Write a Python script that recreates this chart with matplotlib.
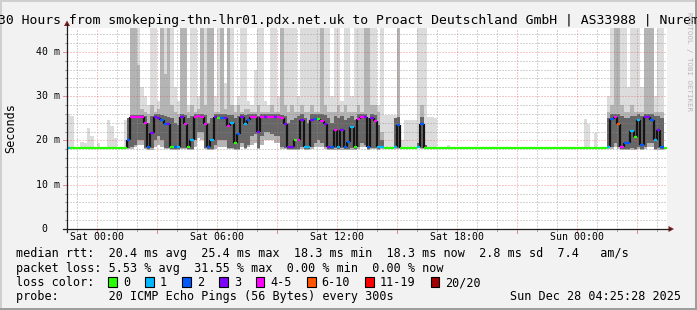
import matplotlib
matplotlib.use("Agg")
import matplotlib.pyplot as plt
from matplotlib.patches import Rectangle, Polygon
from matplotlib.lines import Line2D
import numpy as np

# ---------------- data (10-minute bins, first bin starts Fri 22:30) ----------------
start_hour = -1.5          # hours relative to Sat 00:00
bin_hours = 1.0 / 6.0

median_ms = [
    18.3, 18.3, 18.3, 18.3, 18.3, 18.3, 18.3, 18.3, 18.3, 18.3,
    18.3, 18.3, 18.3, 18.3, 18.3, 18.3, 18.3, 18.3, 20.0, 25.2,
    25.2, 25.3, 25.2, 23.9, 18.5, 21.6, 25.3, 25.0, 24.6, 23.6,
    23.6, 18.4, 18.5, 18.4, 25.3, 23.6, 18.4, 20.2, 25.3, 25.4,
    25.3, 23.6, 18.4, 20.1, 25.2, 25.0, 25.1, 25.0, 23.2, 23.9,
    19.5, 21.5, 25.3, 23.6, 24.7, 25.2, 25.2, 22.0, 25.2, 25.3,
    25.3, 25.2, 25.2, 25.3, 25.0, 23.6, 18.5, 18.5, 20.2, 20.1,
    24.5, 18.4, 18.5, 24.7, 24.8, 24.8, 24.4, 23.6, 18.5, 18.5,
    22.3, 18.5, 22.3, 18.5, 19.7, 23.0, 18.4, 24.8, 25.3, 25.3,
    18.4, 25.0, 24.3, 18.4, 18.4, 18.3, 18.3, 18.3, 18.4, 23.4,
    18.3, 18.3, 18.3, 18.3, 18.3, 18.4, 23.6, 18.3, 18.3, 18.3,
    18.3, 18.3, 18.3, 18.3, 18.3, 18.3, 18.3, 18.3, 18.3, 18.3,
    18.3, 18.3, 18.3, 18.3, 18.3, 18.3, 18.3, 18.3, 18.3, 18.3,
    18.3, 18.3, 18.3, 18.3, 18.3, 18.3, 18.3, 18.3, 18.3, 18.3,
    18.3, 18.3, 18.3, 18.3, 18.3, 18.3, 18.3, 18.3, 18.3, 18.3,
    18.3, 18.3, 18.3, 18.3, 18.3, 18.3, 18.3, 18.3, 18.3, 18.3,
    18.3, 18.3, 18.4, 24.8, 25.2, 23.8, 18.4, 19.5, 19.5, 22.2,
    20.8, 24.6, 19.0, 25.2, 25.2, 24.6, 20.0, 22.3, 18.4, 18.3,
]

loss_pings = [
    1, 0, 0, 0, 0, 0, 0, 0, 0, 0,
    0, 0, 0, 0, 0, 0, 0, 0, 2, 4,
    4, 4, 4, 4, 2, 3, 3, 3, 2, 2,
    3, 0, 2, 1, 3, 4, 0, 1, 4, 4,
    4, 4, 2, 1, 3, 0, 2, 3, 4, 1,
    0, 2, 3, 1, 2, 4, 4, 3, 4, 3,
    4, 4, 3, 4, 4, 3, 3, 3, 0, 4,
    3, 1, 1, 3, 2, 0, 4, 3, 3, 2,
    4, 1, 3, 2, 2, 1, 0, 4, 4, 3,
    2, 3, 4, 1, 1, 0, 0, 0, 1, 2,
    0, 0, 0, 0, 0, 1, 2, 0, 0, 0,
    0, 0, 0, 0, 0, 0, 0, 0, 0, 0,
    0, 0, 0, 0, 0, 0, 0, 0, 0, 0,
    0, 0, 0, 0, 0, 0, 0, 0, 0, 0,
    0, 0, 0, 0, 0, 0, 0, 0, 0, 0,
    0, 0, 0, 0, 0, 0, 0, 0, 0, 0,
    0, 0, 1, 2, 4, 7, 4, 2, 2, 1,
    0, 1, 2, 3, 3, 2, 1, 3, 2, 0,
]

smoke_min = [
    18.3, 18.3, 18.3, 18.3, 18.3, 18.3, 18.3, 18.3, 18.3, 18.3,
    18.3, 18.3, 18.3, 18.3, 18.3, 18.3, 18.3, 18.3, 18.0, 18.0,
    18.5, 19.0, 19.0, 18.0, 17.9, 17.9, 18.5, 19.0, 18.5, 18.0,
    18.0, 17.9, 17.9, 17.9, 18.0, 18.0, 17.9, 17.9, 18.5, 20.5,
    20.0, 18.0, 17.9, 17.9, 18.0, 18.5, 18.5, 18.5, 18.0, 18.0,
    17.9, 17.9, 18.5, 18.0, 18.5, 19.0, 19.5, 18.0, 19.0, 20.0,
    20.0, 20.0, 19.5, 19.5, 18.0, 18.0, 17.9, 17.9, 17.9, 17.9,
    18.0, 17.9, 17.9, 18.0, 18.5, 18.5, 18.5, 18.0, 17.9, 17.9,
    17.9, 17.9, 17.9, 17.9, 17.9, 17.9, 17.9, 18.0, 18.5, 18.5,
    17.9, 18.0, 18.0, 17.9, 18.1, 18.3, 18.3, 18.3, 18.0, 18.0,
    18.3, 18.3, 18.3, 18.3, 18.3, 18.2, 18.0, 18.3, 18.3, 18.3,
    18.3, 18.3, 18.3, 18.3, 18.3, 18.3, 18.3, 18.3, 18.3, 18.3,
    18.3, 18.3, 18.3, 18.3, 18.3, 18.3, 18.3, 18.3, 18.3, 18.3,
    18.3, 18.3, 18.3, 18.3, 18.3, 18.3, 18.3, 18.3, 18.3, 18.3,
    18.3, 18.3, 18.3, 18.3, 18.3, 18.3, 18.3, 18.3, 18.3, 18.3,
    18.3, 18.3, 18.3, 18.3, 18.3, 18.3, 18.3, 18.3, 18.3, 18.3,
    18.3, 18.3, 18.0, 18.0, 18.5, 18.0, 17.9, 17.9, 17.9, 17.9,
    17.9, 18.0, 17.9, 18.0, 18.5, 18.5, 17.9, 17.9, 17.9, 18.3,
]

dark_lo = [
    18.3, 18.3, 18.3, 18.3, 18.3, 18.3, 18.3, 18.3, 18.3, 18.3,
    18.3, 18.3, 18.3, 18.3, 18.3, 18.3, 18.3, 18.3, 18.3, 18.5,
    19.0, 20.0, 20.0, 18.3, 18.0, 18.2, 20.0, 21.0, 20.0, 18.3,
    18.3, 18.0, 18.0, 18.0, 18.3, 18.3, 18.0, 18.0, 20.0, 22.0,
    22.0, 18.3, 18.0, 18.0, 19.0, 20.0, 20.0, 20.0, 18.3, 18.3,
    18.0, 18.0, 19.5, 18.3, 19.0, 21.0, 21.5, 18.3, 21.0, 22.0,
    22.0, 21.5, 21.0, 21.0, 18.5, 18.3, 18.0, 18.0, 18.0, 18.0,
    18.5, 18.0, 18.0, 18.5, 19.5, 20.0, 19.5, 18.5, 18.0, 18.0,
    18.2, 18.0, 18.2, 18.0, 18.0, 18.2, 18.0, 18.5, 19.5, 19.0,
    18.0, 18.3, 18.3, 18.0, 18.2, 18.3, 18.3, 18.3, 18.2, 18.3,
    18.3, 18.3, 18.3, 18.3, 18.3, 18.3, 18.3, 18.3, 18.3, 18.3,
    18.3, 18.3, 18.3, 18.3, 18.3, 18.3, 18.3, 18.3, 18.3, 18.3,
    18.3, 18.3, 18.3, 18.3, 18.3, 18.3, 18.3, 18.3, 18.3, 18.3,
    18.3, 18.3, 18.3, 18.3, 18.3, 18.3, 18.3, 18.3, 18.3, 18.3,
    18.3, 18.3, 18.3, 18.3, 18.3, 18.3, 18.3, 18.3, 18.3, 18.3,
    18.3, 18.3, 18.3, 18.3, 18.3, 18.3, 18.3, 18.3, 18.3, 18.3,
    18.3, 18.3, 18.2, 18.5, 19.5, 18.5, 18.0, 18.0, 18.0, 18.2,
    18.0, 18.5, 18.0, 18.5, 19.5, 19.5, 18.0, 18.2, 18.0, 18.3,
]

dark_hi = [
    18.3, 18.3, 18.3, 18.3, 18.3, 18.3, 18.3, 18.3, 18.3, 18.3,
    18.3, 18.3, 18.3, 18.3, 18.3, 18.3, 18.3, 18.3, 25.0, 25.8,
    25.8, 25.8, 25.8, 25.5, 24.0, 25.5, 26.0, 26.0, 25.8, 25.5,
    25.3, 25.0, 24.0, 23.5, 26.0, 25.8, 25.0, 25.5, 26.0, 26.0,
    26.0, 25.8, 24.0, 25.0, 26.0, 26.0, 26.0, 26.0, 25.8, 25.8,
    25.0, 25.5, 26.0, 25.8, 26.0, 26.0, 26.0, 25.5, 26.0, 26.0,
    26.0, 26.0, 26.0, 26.0, 25.8, 25.5, 24.0, 24.5, 25.0, 25.5,
    26.0, 25.0, 24.0, 26.0, 26.0, 26.0, 26.0, 25.8, 25.0, 24.0,
    25.5, 25.0, 25.5, 24.5, 25.0, 25.5, 24.5, 26.0, 26.0, 26.0,
    25.0, 26.0, 25.8, 23.5, 20.0, 18.3, 18.3, 18.3, 25.0, 25.3,
    18.3, 18.3, 18.3, 18.3, 18.3, 19.5, 25.3, 19.0, 18.3, 18.3,
    18.3, 18.3, 18.3, 18.3, 18.3, 18.3, 18.3, 18.3, 18.3, 18.3,
    18.3, 18.3, 18.3, 18.3, 18.3, 18.3, 18.3, 18.3, 18.3, 18.3,
    18.3, 18.3, 18.3, 18.3, 18.3, 18.3, 18.3, 18.3, 18.3, 18.3,
    18.3, 18.3, 18.3, 18.3, 18.3, 18.3, 18.3, 18.3, 18.3, 18.3,
    18.3, 18.3, 18.3, 18.3, 18.3, 18.3, 18.3, 18.3, 18.3, 18.3,
    18.3, 18.3, 25.0, 26.0, 26.0, 26.0, 25.5, 25.0, 25.0, 25.5,
    25.5, 26.0, 25.5, 26.0, 26.0, 26.0, 25.5, 25.5, 25.0, 18.3,
]

smoke_mid = [
    18.3, 18.3, 18.3, 18.3, 18.3, 18.3, 18.3, 18.3, 18.3, 18.3,
    18.3, 18.3, 18.3, 18.3, 18.3, 18.3, 18.3, 18.3, 22.0, 46.0,
    46.0, 37.0, 27.0, 26.5, 26.0, 28.0, 26.5, 27.0, 46.0, 35.0,
    46.0, 28.0, 26.5, 26.0, 46.0, 46.0, 26.5, 28.0, 26.5, 27.0,
    46.0, 28.0, 46.0, 46.0, 26.5, 26.5, 46.0, 27.0, 46.0, 28.0,
    26.5, 28.0, 26.5, 27.0, 27.0, 26.5, 26.5, 28.0, 26.5, 26.5,
    26.5, 28.0, 26.5, 26.5, 46.0, 28.0, 26.5, 28.0, 26.5, 26.5,
    28.0, 26.5, 26.5, 28.0, 26.5, 26.5, 46.0, 28.0, 26.5, 26.5,
    26.5, 28.0, 26.5, 28.0, 26.5, 26.5, 26.5, 28.0, 26.5, 46.0,
    46.0, 28.0, 28.0, 26.5, 22.0, 18.3, 18.3, 18.3, 22.0, 46.0,
    18.3, 18.3, 18.3, 18.3, 18.3, 18.3, 28.0, 18.3, 18.3, 18.3,
    18.3, 18.3, 18.3, 18.3, 18.3, 18.3, 18.3, 18.3, 18.3, 18.3,
    18.3, 18.3, 18.3, 18.3, 18.3, 18.3, 18.3, 18.3, 18.3, 18.3,
    18.3, 18.3, 18.3, 18.3, 18.3, 18.3, 18.3, 18.3, 18.3, 18.3,
    18.3, 18.3, 18.3, 18.3, 18.3, 18.3, 18.3, 18.3, 18.3, 18.3,
    18.3, 18.3, 18.3, 18.3, 18.3, 18.3, 18.3, 18.3, 18.3, 18.3,
    18.3, 18.3, 26.5, 28.0, 46.0, 46.0, 28.0, 26.5, 26.5, 28.0,
    26.5, 26.5, 26.5, 46.0, 46.0, 46.0, 26.5, 26.5, 26.5, 18.3,
]

smoke_max = [
    26.0, 25.5, 18.3, 18.3, 19.7, 19.5, 22.7, 21.0, 18.3, 19.4,
    18.3, 18.3, 24.6, 23.2, 20.5, 18.3, 18.3, 24.6, 24.6, 46.0,
    46.0, 46.0, 32.0, 30.0, 28.0, 46.0, 46.0, 29.0, 46.0, 46.0,
    46.0, 46.0, 32.0, 29.0, 46.0, 46.0, 28.0, 46.0, 46.0, 30.0,
    46.0, 46.0, 46.0, 46.0, 30.0, 46.0, 46.0, 33.0, 46.0, 46.0,
    28.0, 30.0, 46.0, 46.0, 29.0, 28.0, 36.0, 46.0, 46.0, 29.0,
    28.0, 46.0, 46.0, 30.0, 46.0, 46.0, 46.0, 46.0, 46.0, 30.0,
    46.0, 46.0, 46.0, 46.0, 46.0, 46.0, 46.0, 46.0, 46.0, 30.0,
    46.0, 46.0, 29.0, 46.0, 46.0, 30.0, 46.0, 46.0, 46.0, 46.0,
    46.0, 46.0, 46.0, 28.0, 46.0, 25.7, 25.7, 25.7, 25.7, 46.0,
    20.0, 24.6, 24.6, 24.6, 24.6, 46.0, 46.0, 46.0, 25.3, 25.3,
    25.0, 18.3, 18.3, 18.3, 19.0, 18.3, 18.3, 18.3, 18.3, 18.3,
    18.3, 18.3, 18.3, 18.3, 18.3, 18.3, 18.3, 18.3, 18.3, 18.3,
    18.3, 18.3, 18.3, 18.3, 18.3, 18.3, 18.3, 18.3, 18.3, 18.3,
    18.3, 18.3, 18.3, 18.3, 18.3, 18.3, 18.3, 18.3, 18.3, 18.3,
    18.3, 18.3, 18.3, 18.3, 18.3, 24.8, 23.8, 18.3, 21.6, 18.3,
    18.3, 18.3, 30.0, 46.0, 46.0, 46.0, 46.0, 46.0, 32.0, 46.0,
    46.0, 46.0, 32.0, 46.0, 46.0, 46.0, 30.0, 46.0, 46.0, 18.3,
]

y_ticks = [0, 10, 20, 30, 40]
y_tick_labels = [" 0", "10 m", "20 m", "30 m", "40 m"]
x_ticks = [0, 6, 12, 18, 24]
x_tick_labels = ["Sat 00:00", "Sat 06:00", "Sat 12:00", "Sat 18:00", "Sun 00:00"]

title = "30 Hours from smokeping-thn-lhr01.pdx.net.uk to Proact Deutschland GmbH | AS33988 | Nuremberg"
legend_rtt = "median rtt:  20.4 ms avg  25.4 ms max  18.3 ms min  18.3 ms now  2.8 ms sd  7.4   am/s"
legend_loss = "packet loss: 5.53 % avg  31.55 % max  0.00 % min  0.00 % now"
loss_labels = ["0", "1", "2", "3", "4-5", "6-10", "11-19", "20/20"]
loss_box_colors = ["#26ff00", "#00b8ff", "#0059ff", "#7e00ff", "#ff00ff", "#ff5500", "#ff0000", "#a00000"]
probe_text = "probe:       20 ICMP Echo Pings (56 Bytes) every 300s"
stamp_text = "Sun Dec 28 04:25:28 2025"


def loss_color(n):
    if n <= 3:
        return loss_box_colors[n]
    if n <= 5:
        return loss_box_colors[4]
    if n <= 10:
        return loss_box_colors[5]
    if n <= 19:
        return loss_box_colors[6]
    return loss_box_colors[7]


# ---------------- layout ----------------
W, H = 697, 310
MONO = "DejaVu Sans Mono"
fig = plt.figure(figsize=(W / 100, H / 100), dpi=100, facecolor="#f2f2f2")


def fx(x):
    return x / W


def fy(y):
    return 1 - y / H


PL, PR, PT, PB = 67, 667, 28, 229
PX_PER_MS = 4.43
YMAX = (PB - PT) / PX_PER_MS
ax = fig.add_axes([fx(PL), fy(PB), (PR - PL) / W, (PB - PT) / H])
ax.set_xlim(-1.5, 28.5)
ax.set_ylim(0, YMAX)
ax.set_facecolor("white")
for s in ax.spines.values():
    s.set_visible(False)
ax.set_xticks([])
ax.set_yticks([])

n = len(median_ms)
edges = start_hour + np.arange(n + 1) * bin_hours


def ext(a):
    a = np.asarray(a, dtype=float)
    return np.append(a, a[-1])


# smoke
ax.fill_between(edges, ext(smoke_min), ext(smoke_max), step="post", color="#dcdcdc", lw=0, zorder=1)
ax.fill_between(edges, ext(smoke_min), ext(smoke_mid), step="post", color="#b4b4b4", lw=0, zorder=2)
ax.fill_between(edges, ext(dark_lo), ext(dark_hi), step="post", color="#666666", lw=0, zorder=3)

# grid (drawn over the smoke like rrdtool)
minor_c = (0.56, 0.56, 0.56, 0.75)
major_c = (0.87, 0.31, 0.31, 0.6)
for v in np.arange(2, YMAX, 2):
    major = abs(v % 10) < 1e-6
    ax.axhline(v, color=major_c if major else minor_c, lw=0.72, dashes=(1, 2), zorder=4)
for h in range(-1, 29):
    major = h % 3 == 0
    ax.axvline(h, color=major_c if major else minor_c, lw=0.72, dashes=(1, 2), zorder=4)

# median line: black transitions + loss-coloured steps
med = np.asarray(median_ms)
for i in range(1, n):
    if med[i] != med[i - 1]:
        ax.vlines(edges[i], min(med[i], med[i - 1]), max(med[i], med[i - 1]),
                  color="#141414", lw=1.6, zorder=5)
ax.hlines(med, edges[:-1], edges[1:], colors=[loss_color(l) for l in loss_pings],
          lw=1.6, zorder=6)

# ---------------- axes lines, ticks, arrows (pixel coordinates) ----------------
axis_c = "#1f1f1f"
arrow_c = "#801f1f"


def fig_line(x0, y0, x1, y1, color, lw=0.72, **kw):
    fig.add_artist(Line2D([fx(x0), fx(x1)], [fy(y0), fy(y1)], color=color, lw=lw,
                          transform=fig.transFigure, **kw))


def ms_to_py(v):
    return PB - v * PX_PER_MS


def hour_to_px(h):
    return PL + (h - start_hour) * (PR - PL) / 30.0


# y ticks
for v in np.arange(2, YMAX, 2):
    y = ms_to_py(v)
    if abs(v % 10) < 1e-6:
        fig_line(63, y, 67, y, major_c)
    else:
        fig_line(65, y, 67, y, minor_c)
# x ticks
for h in range(-1, 29):
    x = hour_to_px(h)
    if h % 3 == 0:
        fig_line(x, PB, x, PB + 3.5, major_c)
    else:
        fig_line(x, PB, x, PB + 2, minor_c)

fig_line(PL, PB + 3, PL, 24, axis_c, lw=0.9)
fig_line(PL - 4, PB, PR + 3, PB, axis_c, lw=0.9)
fig.add_artist(Polygon([[fx(PL - 3), fy(26)], [fx(PL + 3), fy(26)], [fx(PL), fy(20.5)]],
                       closed=True, color=arrow_c, transform=fig.transFigure, lw=0))
fig.add_artist(Polygon([[fx(PR + 1.5), fy(PB - 3)], [fx(PR + 1.5), fy(PB + 3)], [fx(PR + 7), fy(PB)]],
                       closed=True, color=arrow_c, transform=fig.transFigure, lw=0))

# tick labels
for v, lab in zip(y_ticks, y_tick_labels):
    fig.text(fx(36.4), fy(ms_to_py(v)), lab, family=MONO, fontsize=7.1,
             ha="left", va="center", color="black")
for h, lab in zip(x_ticks, x_tick_labels):
    fig.text(fx(hour_to_px(h)), fy(237.5), lab, family=MONO, fontsize=7.1,
             ha="center", va="center", color="black")

# title, y label, watermark
fig.text(fx(-2.5), fy(24), title, family=MONO, fontsize=9.45, ha="left", va="baseline")
fig.text(fx(10.8), fy(128), "Seconds", family=MONO, fontsize=8.5, rotation=90,
         ha="center", va="center")
fig.text(fx(688.5), fy(12), "RRDTOOL / TOBI OETIKER", family=MONO, fontsize=5.4,
         rotation=270, ha="center", va="top", color="#b8b8b8")

# legend
CW = 7.1
LX = 16
fig.text(fx(LX), fy(257.5), legend_rtt, family=MONO, fontsize=8.5, ha="left", va="baseline")
fig.text(fx(LX), fy(271.7), legend_loss, family=MONO, fontsize=8.5, ha="left", va="baseline")
fig.text(fx(LX), fy(286), "loss color:", family=MONO, fontsize=8.5, ha="left", va="baseline")
bx = 108.3
for lab, col in zip(loss_labels, loss_box_colors):
    fig.add_artist(Rectangle((fx(bx), fy(286.5)), 8.5 / W, 9.5 / H, facecolor=col,
                             edgecolor="black", lw=0.8, transform=fig.transFigure))
    fig.text(fx(bx + 14.7), fy(286), lab, family=MONO, fontsize=8.5, ha="left", va="baseline")
    bx += 29.8 + len(lab) * CW
fig.text(fx(LX), fy(300), probe_text, family=MONO, fontsize=8.5, ha="left", va="baseline")
fig.text(fx(681), fy(300), stamp_text, family=MONO, fontsize=8.5, ha="right", va="baseline")

# 3D frame like rrdtool
fig.add_artist(Rectangle((0, fy(2)), 1, 2 / H, color="#cfcfcf", transform=fig.transFigure, lw=0))
fig.add_artist(Rectangle((0, 0), 2 / W, 1, color="#cfcfcf", transform=fig.transFigure, lw=0))
fig.add_artist(Rectangle((0, 0), 1, 2 / H, color="#9e9e9e", transform=fig.transFigure, lw=0))
fig.add_artist(Rectangle((1 - 2 / W, 0), 2 / W, 1, color="#9e9e9e", transform=fig.transFigure, lw=0))

fig.savefig("out.png", dpi=100, facecolor=fig.get_facecolor())
